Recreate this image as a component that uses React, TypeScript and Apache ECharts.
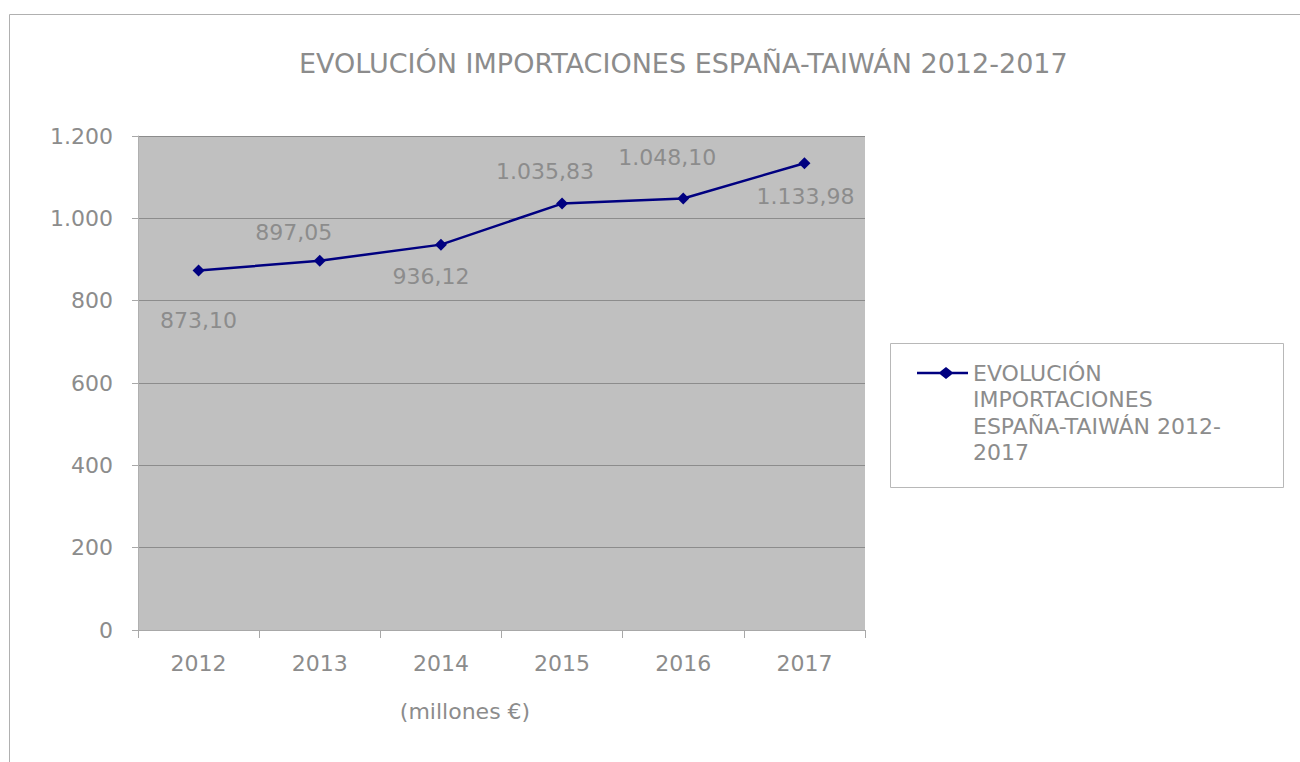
import React, { useEffect, useRef } from "react";
import * as echarts from "echarts";

const categories = ["2012", "2013", "2014", "2015", "2016", "2017"];
const values = [873.1, 897.05, 936.12, 1035.83, 1048.1, 1133.98];
const labelOffsets: [number, number][] = [
  [0, 50],
  [-26, -28],
  [-10, 32],
  [-17, -32],
  [-16, -41],
  [1, 33],
];
const yTicks = [0, 200, 400, 600, 800, 1000, 1200];
const titleText = "EVOLUCIÓN IMPORTACIONES ESPAÑA-TAIWÁN 2012-2017";
const legendLines = ["EVOLUCIÓN", "IMPORTACIONES", "ESPAÑA-TAIWÁN 2012-", "2017"];
const unitText = "(millones €)";

const FONT = "DejaVu Sans";
const GREY = "#8c8c8c";

function fmtEs(v: number, dec: number): string {
  const s = v.toFixed(dec);
  const [i, d] = s.split(".");
  const int = i.replace(/\B(?=(\d{3})+(?!\d))/g, ".");
  return d ? int + "," + d : int;
}

export default function App() {
  const ref = useRef<HTMLDivElement>(null);
  useEffect(() => {
    document.body.style.margin = "0";
    const chart = echarts.init(ref.current!, null, { renderer: "svg" });
    const lh = 26.5;
    chart.setOption({
      animation: false,
      backgroundColor: "#ffffff",
      title: {
        text: titleText,
        left: 299,
        top: 50,
        padding: 0,
        textStyle: { fontFamily: FONT, fontSize: 27, fontWeight: "normal", color: GREY },
      },
      legend: {
        show: true,
        left: 917,
        top: 373 - 3.5 * lh,
        padding: 0,
        itemWidth: 51,
        itemHeight: 14,
        icon: "path://M0,5.8 L23,5.8 L29,1 L35,5.8 L51,5.8 L51,8.2 L35,8.2 L29,13 L23,8.2 L0,8.2 Z",
        formatter: () => "\n\n\n" + legendLines.join("\n"),
        textStyle: {
          fontFamily: FONT,
          fontSize: 22,
          color: GREY,
          lineHeight: lh,
        },
        data: [{ name: titleText, itemStyle: { color: "#000080" } }],
      },
      grid: { left: 138, right: 435, top: 136, bottom: 132, show: true, backgroundColor: "#c0c0c0", borderWidth: 0 },
      xAxis: {
        type: "category",
        data: categories,
        boundaryGap: true,
        axisLine: { lineStyle: { color: "#a8a8a8", width: 1 } },
        axisTick: { show: true, length: 8, lineStyle: { color: "#a8a8a8" } },
        axisLabel: { fontFamily: FONT, fontSize: 22, color: GREY, margin: 22 },
        splitLine: { show: false },
      },
      yAxis: {
        type: "value",
        min: 0,
        max: 1200,
        interval: 200,
        axisLine: { show: true, lineStyle: { color: "#b0b0b0", width: 1 } },
        axisTick: { show: true, length: 6, lineStyle: { color: "#a8a8a8" } },
        axisLabel: {
          fontFamily: FONT,
          fontSize: 22,
          color: GREY,
          margin: 25,
          formatter: (v: number) => (yTicks.includes(v) ? fmtEs(v, 0) : ""),
        },
        splitLine: { show: true, lineStyle: { color: "#8c8c8c", width: 1 } },
      },
      series: [
        {
          name: titleText,
          type: "line",
          data: values.map((v, i) => ({
            value: v,
            label: { offset: labelOffsets[i] },
          })),
          symbol: "diamond",
          symbolSize: 12,
          lineStyle: { color: "#000080", width: 2.5 },
          itemStyle: { color: "#000080" },
          label: {
            show: true,
            position: "inside",
            fontFamily: FONT,
            fontSize: 22,
            color: GREY,
            formatter: (p: any) => fmtEs(p.value, 2),
          },
        },
      ],
      graphic: [
        {
          type: "rect",
          shape: { x: 9.5, y: 14.5, width: 1400, height: 1000 },
          style: { fill: "none", stroke: "#b0b0b0", lineWidth: 1 },
          silent: true,
        },
        {
          type: "rect",
          shape: { x: 890.5, y: 343.5, width: 393, height: 144 },
          style: { fill: "none", stroke: "#b8b8b8", lineWidth: 1 },
          silent: true,
          z: -1,
        },
        {
          type: "text",
          x: 465,
          y: 711,
          style: {
            text: unitText,
            fontFamily: FONT,
            fontSize: 22,
            fill: GREY,
            align: "center",
            verticalAlign: "middle",
          },
        },
      ],
    });
    return () => chart.dispose();
  }, []);
  return <div ref={ref} style={{ width: 1300, height: 762 }} />;
}
